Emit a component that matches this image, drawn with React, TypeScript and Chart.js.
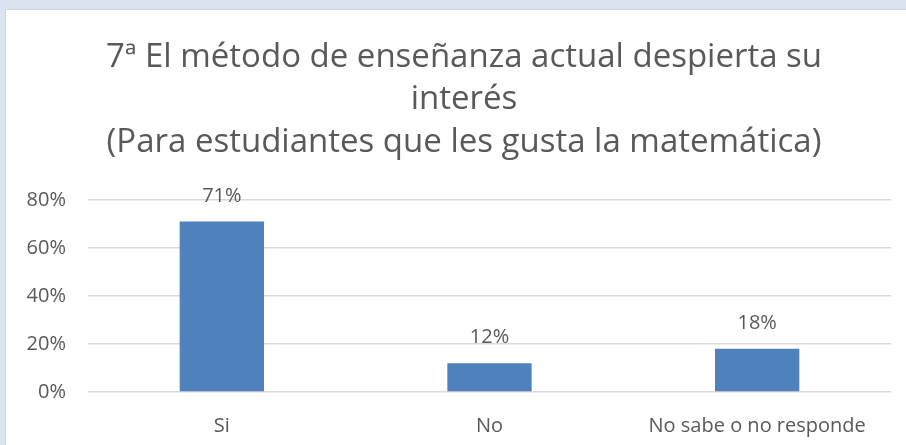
import React, { useEffect, useRef } from "react";
import { Chart, registerables } from "chart.js";

Chart.register(...registerables);

const titleLines = [
  "7ª El método de enseñanza actual despierta su",
  "interés",
  "(Para estudiantes que les gusta la matemática)",
];
const categories = ["Si", "No", "No sabe o no responde"];
const values = [71, 12, 18];
const yTicks = [0, 20, 40, 60, 80];

const FONT = "'Open Sans', 'Noto Sans', sans-serif";
const TEXT = "#595959";

const valueLabels = {
  id: "valueLabels",
  afterDatasetsDraw(chart: any) {
    const ctx = chart.ctx;
    const meta = chart.getDatasetMeta(0);
    ctx.save();
    ctx.font = `20px ${FONT}`;
    ctx.fillStyle = TEXT;
    ctx.textAlign = "center";
    ctx.textBaseline = "alphabetic";
    meta.data.forEach((bar: any, i: number) => {
      ctx.fillText(values[i] + "%", bar.x, bar.y - 20);
    });
    ctx.restore();
  },
};

const chartTitle = {
  id: "chartTitle",
  afterDraw(chart: any) {
    const ctx = chart.ctx;
    ctx.save();
    ctx.font = `33px ${FONT}`;
    ctx.fillStyle = TEXT;
    ctx.textAlign = "center";
    ctx.textBaseline = "middle";
    const cx = 458;
    titleLines.forEach((line, i) => {
      ctx.fillText(line, cx, 47.3 + i * 42.57);
    });
    ctx.restore();
  },
};

export default function App() {
  const ref = useRef<HTMLCanvasElement>(null);
  useEffect(() => {
    if (!ref.current) return;
    const chart = new Chart(ref.current, {
      type: "bar",
      data: {
        labels: categories,
        datasets: [
          {
            data: values,
            backgroundColor: "#4f81bd",
            borderWidth: 0,
            barPercentage: 0.63,
            categoryPercentage: 0.5,
          },
        ],
      },
      options: {
        responsive: false,
        animation: false,
        layout: { padding: { top: 190, right: 15, bottom: 0, left: 0 } },
        plugins: {
          legend: { display: false },
          tooltip: { enabled: false },
          title: { display: false },
        },
        scales: {
          x: {
            grid: { display: false, drawTicks: false },
            border: { display: false },
            ticks: { color: TEXT, font: { family: FONT, size: 20 }, padding: 22 },
            afterFit: (s: any) => {
              s.height = 53;
            },
          },
          y: {
            min: 0,
            max: 80,
            afterBuildTicks: (s: any) => {
              s.ticks = yTicks.map((v) => ({ value: v }));
            },
            grid: { color: "#d9d9d9", lineWidth: 1.5, drawTicks: false },
            border: { display: false },
            ticks: {
              color: TEXT,
              font: { family: FONT, size: 20 },
              padding: 22,
              callback: (v: any) => v + "%",
            },
            afterFit: (s: any) => {
              s.width = 82;
            },
          },
        },
      },
      plugins: [valueLabels, chartTitle],
    });
    return () => chart.destroy();
  }, []);

  return (
    <div
      style={{
        position: "fixed",
        left: 0,
        top: 0,
        width: 906,
        height: 445,
        background: "#dae4f0",
        overflow: "hidden",
      }}
    >
      <div
        style={{
          position: "absolute",
          left: 5,
          top: 9,
          width: 900,
          height: 435,
          background: "#ffffff",
          borderLeft: "1px solid #cfd4da",
          borderTop: "1px solid #cfd4da",
        }}
      >
        <canvas ref={ref} width={900} height={435} style={{ display: "block", width: 900, height: 435 }} />
      </div>
    </div>
  );
}
